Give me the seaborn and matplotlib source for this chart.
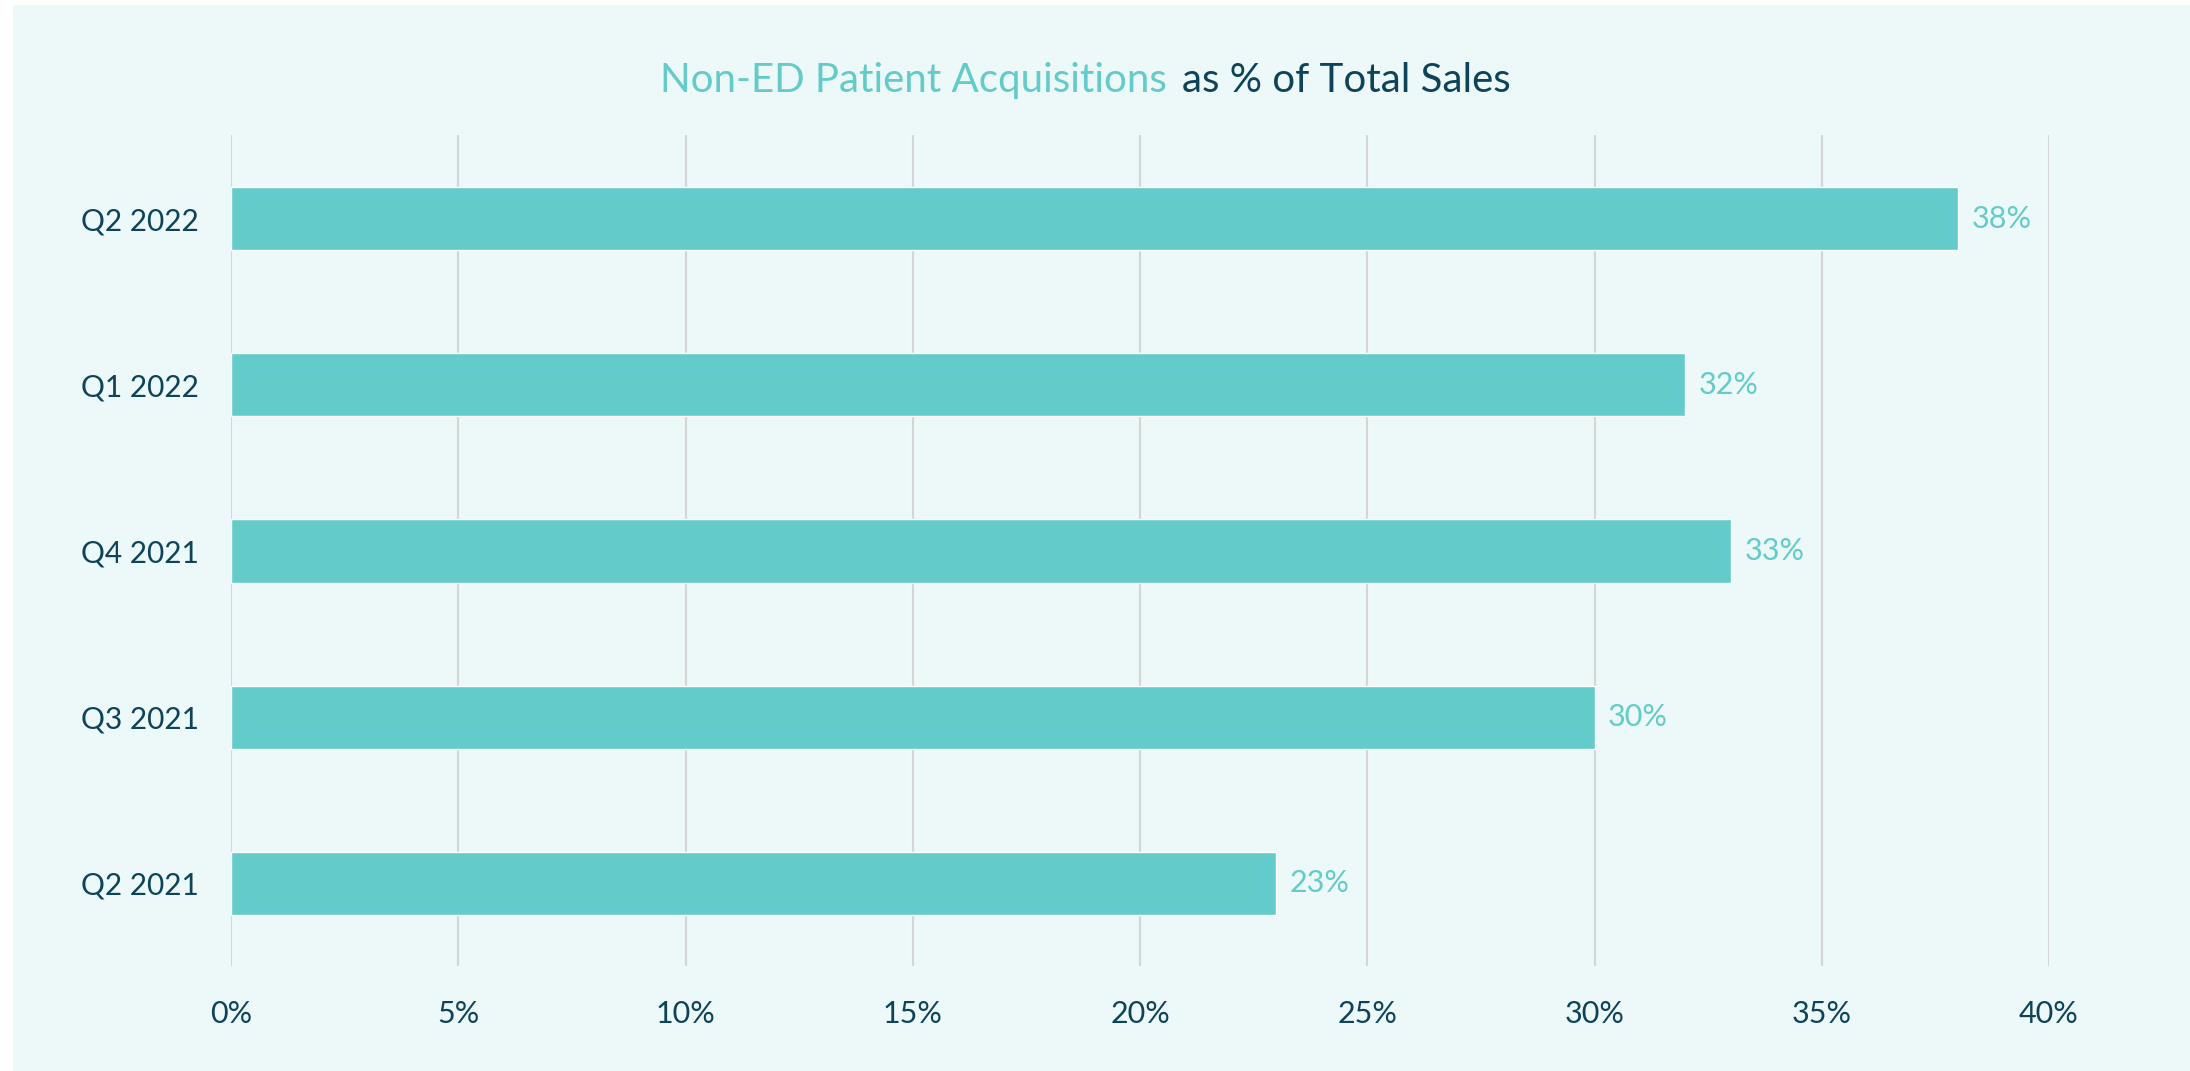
import matplotlib
matplotlib.use("Agg")
import matplotlib.pyplot as plt
from matplotlib.patches import Rectangle
import seaborn as sns
import pandas as pd

# Dados
quarters = ["Q2 2022", "Q1 2022", "Q4 2021", "Q3 2021", "Q2 2021"]
share = [38, 32, 33, 30, 23]
xticks = [0, 5, 10, 15, 20, 25, 30, 35, 40]

teal = "#63CBC9"
navy = "#0E4459"
bg = "#EDF8F9"

df = pd.DataFrame({"quarter": quarters, "share": share})

sns.set_style("white")
plt.rcParams["font.family"] = ["Lato", "DejaVu Sans"]

fig = plt.figure(figsize=(21.9, 10.71), dpi=100)
fig.patch.set_facecolor("white")
fig.patches.append(Rectangle((13 / 2190, 0), 1, 1 - 5 / 1071, transform=fig.transFigure,
                             facecolor=bg, edgecolor="none", zorder=-10))

ax = fig.add_axes([231 / 2190, 0.0976, (2049 - 231) / 2190, 0.8735 - 0.0976])
ax.set_facecolor("none")

sns.barplot(data=df, x="share", y="quarter", color=teal, saturation=1,
            width=0.38, ax=ax, zorder=3)

ax.set_xlim(0, 40)
ax.set_ylim(4.5, -0.5)
ax.set_xticks(xticks)
ax.set_xticklabels([f"{t}%" for t in xticks])
ax.grid(axis="x", color="#D4D6D6", linewidth=1.5, zorder=0)
ax.grid(axis="y", visible=False)
for s in ax.spines.values():
    s.set_visible(False)
ax.tick_params(axis="both", length=0, labelcolor=navy)
ax.tick_params(axis="x", pad=24, labelsize=22)
ax.tick_params(axis="y", pad=23, labelsize=21.5)
ax.set_xlabel("")
ax.set_ylabel("")

for i, v in enumerate(share):
    ax.text(v + 0.3, i, f"{v}%", va="center", ha="left", fontsize=22, color=teal)

# Titulo em duas cores
fig.text(1167 / 2190, 0.925, "Non-ED Patient Acquisitions", ha="right", va="center",
         fontsize=29, color=teal)
fig.text(1182 / 2190, 0.925, "as % of Total Sales", ha="left", va="center",
         fontsize=29, color=navy)

fig.savefig("out.png", dpi=100, facecolor=fig.get_facecolor())
